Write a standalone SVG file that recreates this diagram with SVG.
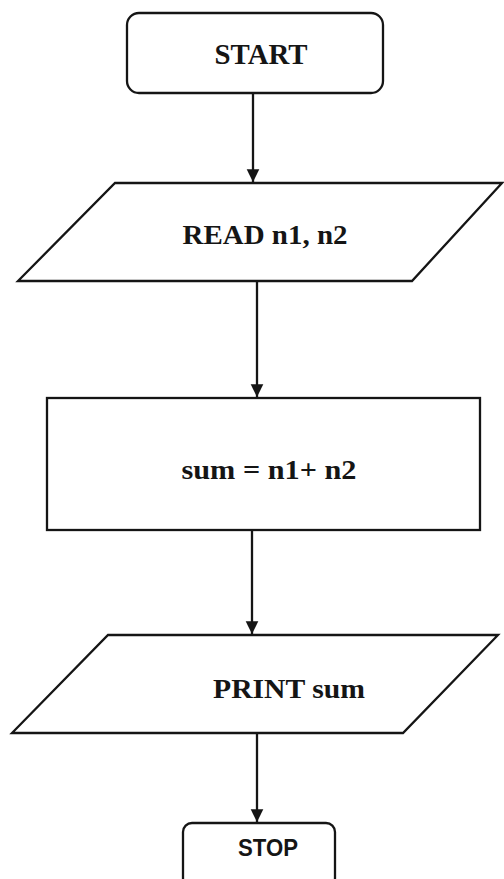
<svg xmlns="http://www.w3.org/2000/svg" width="504" height="879" viewBox="0 0 504 879">
<style>
.shape{fill:#fff;stroke:#151515;stroke-width:2.3}
.lbl{font-family:"Liberation Serif",serif;font-weight:bold;fill:#151515;text-anchor:middle}
.lbls{font-family:"Liberation Sans",Arial,sans-serif;font-weight:bold;fill:#151515;text-anchor:middle}
.conn{stroke:#151515;stroke-width:2.3;fill:none}
</style>
<defs>
<marker id="arr" viewBox="0 0 10 10" refX="10" refY="5" markerWidth="5.5" markerHeight="6" orient="auto" markerUnits="strokeWidth">
<path d="M0,0 L10,5 L0,10 z" fill="#151515"/>
</marker>
</defs>
<rect width="504" height="879" fill="#fff"/>
<g id="start">
<rect class="shape" x="127" y="13" width="256" height="80" rx="12"/>
<text class="lbl" x="261" y="64" font-size="29" textLength="93" lengthAdjust="spacingAndGlyphs">START</text>
</g>
<g id="read">
<polygon class="shape" points="115,183 502,183 412,281 18,281"/>
<text class="lbl" x="265" y="244" font-size="28" textLength="165" lengthAdjust="spacingAndGlyphs">READ n1, n2</text>
</g>
<g id="process">
<rect class="shape" x="47" y="398" width="433" height="132"/>
<text class="lbl" x="269" y="479" font-size="27" textLength="175" lengthAdjust="spacingAndGlyphs">sum = n1+ n2</text>
</g>
<g id="print">
<polygon class="shape" points="108,635 498,635 403,733 12,733"/>
<text class="lbl" x="289" y="698" font-size="28" textLength="152" lengthAdjust="spacingAndGlyphs">PRINT sum</text>
</g>
<g id="stop">
<rect class="shape" x="183" y="823" width="152" height="64" rx="9"/>
<text class="lbls" x="268" y="856" font-size="23" textLength="60" lengthAdjust="spacingAndGlyphs">STOP</text>
</g>
<g id="connectors">
<line class="conn" x1="253" y1="93" x2="253" y2="182" marker-end="url(#arr)"/>
<line class="conn" x1="257" y1="281" x2="257" y2="397" marker-end="url(#arr)"/>
<line class="conn" x1="252" y1="530" x2="252" y2="634" marker-end="url(#arr)"/>
<line class="conn" x1="257" y1="733" x2="257" y2="822" marker-end="url(#arr)"/>
</g>
</svg>
